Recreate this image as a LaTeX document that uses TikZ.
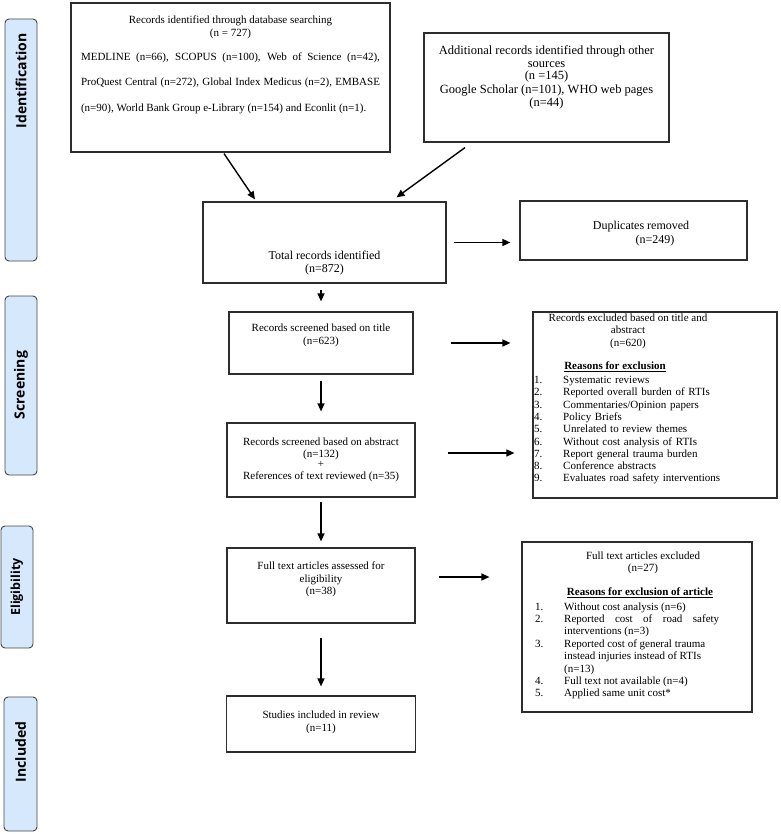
\documentclass[tikz,border=0pt]{standalone}
\usepackage{fontspec}
\setmainfont{Liberation Serif}
\newfontfamily\lblfont{Open Sans}
\usetikzlibrary{arrows.meta}
\definecolor{sidefill}{RGB}{214,232,252}
\definecolor{sidedraw}{RGB}{70,70,70}
\definecolor{boxdraw}{RGB}{45,45,45}
\newcommand{\litem}[2]{\par\noindent\hangindent=29pt\hangafter=1\makebox[29pt][l]{#1}#2}
\begin{document}
\begin{tikzpicture}[x=1pt,y=-1pt,
  box/.style={draw=boxdraw,line width=1.2pt,inner sep=0pt},
  side/.style={draw=sidedraw,fill=sidefill,line width=0.9pt,rounded corners=4pt,inner sep=0pt},
  sidetxt/.style={rotate=90,font=\lblfont\bfseries\fontsize{14}{14}\selectfont,inner sep=0pt},
  txt/.style={align=center,inner sep=0pt,font=\fontsize{11}{13}\selectfont},
  arr/.style={-{Triangle[length=8pt,width=7pt]},line width=1.4pt,black},
]
\useasboundingbox (0,0) rectangle (780,834);
% side labels
\node[side,minimum width=32pt,minimum height=242pt] (sIdent) at (21,140) {};
\node[sidetxt] (tIdent) at (21,81) {Identification};
\node[side,minimum width=32pt,minimum height=179pt] (sScreen) at (21,385.5) {};
\node[sidetxt] (tScreen) at (21,385) {Screening};
\node[side,minimum width=32pt,minimum height=122pt] (sElig) at (17,587) {};
\node[sidetxt,font=\lblfont\bfseries\fontsize{12.5}{12.5}\selectfont] (tElig) at (17,587) {Eligibility};
\node[side,minimum width=33pt,minimum height=134pt] (sIncl) at (20.5,764) {};
\node[sidetxt] (tIncl) at (20.5,752) {Included};
% boxes
\node[box,minimum width=319pt,minimum height=149pt] (db) at (230.5,77.5) {};
\node[txt] (dbT) at (230.5,27.5) {Records identified through database searching\\(n = 727)};
\node[txt,align=justify,text width=299pt,font=\fontsize{11}{25.5}\selectfont] (dbL) at (230.5,83) {\tolerance=10000 MEDLINE (n=66), SCOPUS (n=100), Web of Science (n=42),\linebreak ProQuest Central (n=272), Global Index Medicus (n=2), EMBASE\linebreak (n=90), World Bank Group e-Library (n=154) and Econlit (n=1).};
\node[box,minimum width=245pt,minimum height=109pt] (other) at (546.5,87.5) {};
\node[txt,font=\fontsize{12.5}{12.8}\selectfont] (otherT) at (546.5,64) {Additional records identified through other\\sources\\(n =145)};
\node[txt,font=\fontsize{12.5}{12.8}\selectfont] (otherL) at (546.5,97) {Google Scholar (n=101), WHO web pages\\(n=44)};
\node[box,minimum width=243pt,minimum height=81pt] (total) at (324.5,242.5) {};
\node[txt,font=\fontsize{12}{13.5}\selectfont] (totalT) at (324.5,263) {Total records identified\\(n=872)};
\node[box,minimum width=227pt,minimum height=59pt] (dup) at (633.5,230.5) {};
\node[txt,font=\fontsize{12}{13.5}\selectfont] (dupT) at (641,233.5) {Duplicates removed\\\hspace*{28pt}(n=249)};
\node[box,minimum width=184pt,minimum height=62pt] (title) at (321,343) {};
\node[txt] (titleT) at (321,335) {Records screened based on title\\(n=623)};
\node[box,minimum width=188pt,minimum height=74pt] (abs) at (321,460) {};
\node[txt,font=\fontsize{11}{12}\selectfont] (absT) at (321,459.5) {Records screened based on abstract\\(n=132)\\[-2pt]+\\References of text reviewed (n=35)};
\node[box,minimum width=188pt,minimum height=75pt] (full) at (321,585.5) {};
\node[txt,font=\fontsize{11}{12.5}\selectfont] (fullT) at (321,579.5) {Full text articles assessed for\\eligibility\\(n=38)};
\node[box,minimum width=189pt,minimum height=56pt] (stud) at (321,724) {};
\node[txt] (studT) at (321,722.5) {Studies included in review\\(n=11)};
% exclusion boxes
\node[box,minimum width=244pt,minimum height=186pt] (ex1) at (655,405) {};
\node[txt,font=\fontsize{11}{12.5}\selectfont] (ex1T) at (628,331) {Records excluded based on title and\\abstract\\(n=620)};
\node[txt] (ex1H) at (615,367) {\underline{\textbf{Reasons for exclusion}}};
\node[inner sep=0pt,anchor=north west,text width=230pt,align=left,font=\fontsize{11}{12.3}\selectfont] (ex1L) at (534,371) {%
\litem{1.}{Systematic reviews}
\litem{2.}{Reported overall burden of RTIs}
\litem{3.}{Commentaries/Opinion papers}
\litem{4.}{Policy Briefs}
\litem{5.}{Unrelated to review themes}
\litem{6.}{Without cost analysis of RTIs}
\litem{7.}{Report general trauma burden}
\litem{8.}{Conference abstracts}
\litem{9.}{Evaluates road safety interventions}};
\node[box,minimum width=230pt,minimum height=170pt] (ex2) at (637,627) {};
\node[txt,font=\fontsize{11}{12}\selectfont] (ex2T) at (643,562.5) {Full text articles excluded\\(n=27)};
\node[txt] (ex2H) at (640,593) {\underline{\textbf{Reasons for exclusion of article}}};
\node[inner sep=0pt,anchor=north west,text width=184pt,align=justify,font=\fontsize{11}{12.4}\selectfont] (ex2L) at (535,597.5) {\tolerance=10000
\litem{1.}{Without cost analysis (n=6)}
\litem{2.}{Reported cost of road safety\linebreak interventions (n=3)}
\litem{3.}{Reported cost of general trauma\hfil\break instead injuries instead of RTIs\hfil\break (n=13)}
\litem{4.}{Full text not available (n=4)}
\litem{5.}{Applied same unit cost*}};
% connectors
\draw[arr] ([shift={(-6.5,1)}]db.south) -- ([shift={(-69.5,-2)}]total.north);
\draw[arr] ([shift={(-81.5,5)}]other.south) -- ([shift={(72,-4)}]total.north);
\draw[arr,shorten <=7pt,shorten >=9pt] (total.east) -- (total.east -| dup.west);
\draw[arr,shorten <=6pt,shorten >=10pt] (title.north |- total.south) -- (title.north);
\draw[arr,shorten <=6pt,shorten >=11pt] (title.south) -- (abs.north);
\draw[arr,shorten <=4pt,shorten >=6pt] (abs.south) -- (full.north);
\draw[arr,shorten <=14pt,shorten >=9pt] (full.south) -- (stud.north);
\draw[arr,shorten <=37pt,shorten >=22pt] (title.east) -- (title.east -| ex1.west);
\draw[arr,shorten <=32pt,shorten >=18pt] ([yshift=7pt]abs.east) -- ([yshift=7pt]abs.east -| ex1.west);
\draw[arr,shorten <=23pt,shorten >=32pt] ([yshift=8.5pt]full.east) -- ([yshift=8.5pt]full.east -| ex2.west);
\end{tikzpicture}
\end{document}
